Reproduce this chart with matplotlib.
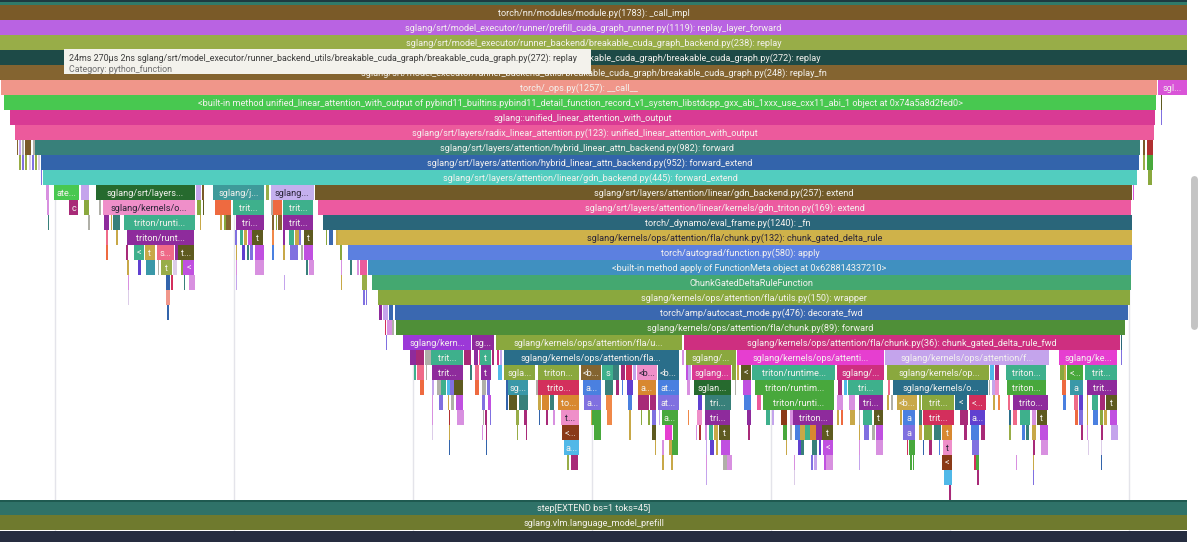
import matplotlib
matplotlib.use("Agg")
import matplotlib.pyplot as plt

plt.rcParams['font.family'] = ['Roboto', 'DejaVu Sans']

# ---------- style ----------
P = dict(
    brn='#7a5a28', vio='#b963e2', olv='#98ad48', dtl='#1d4a47', br2='#846430', sal='#f0968a',
    mag='#d954d8', grn='#48c850', ros='#d93a94', hot='#ec5a9c', tea='#38807a', blu='#3364ab',
    aqu='#52cdbf', red='#b03030', dgr='#266a2e', lil='#c4a4ec', li2='#c4b0ee', ojr='#ee6a40',
    sea='#3eb08c', pur='#8e2b9c', tan='#c8a848', dol='#5e5a20', cor='#ef6a88', cer='#3a98a8',
    mau='#c050e0', plm='#d890e0', ind='#6040d0', per='#8070e0', sky='#50b8e8', cob='#4a80e0',
    cri='#d32f5c', win='#a82a78', amb='#d88830', rus='#8a3a18', lt='#dccce8', gry='#b0b0a8',
    pnk='#ef8fc9', gbk='#715a28', tri='#ec5aa0', eva='#2a667a', yel='#cfb24a', apl='#5c80e0',
    bip='#4090c0', cgd='#44a870', wra='#8aa83e', dec='#3a68b0', fwd='#4f8f38', gar='#3e9a9a',
    cf3='#9c38d8', ch3='#ce2f80', pet='#2a6e8a', fuc='#e63ed0', ora='#f08848', fgr='#48a83c',
)
DARK_TEXT = {'pnk', 'li2', 'yel'}

# ---------- data: time span of each frame per stack depth, with its label ----------
row_0 = [(0, 1187, 'torch/nn/modules/module.py(1783): _call_impl')]
colors_0 = 'brn'.split()
row_1 = [(0, 1187, 'sglang/srt/model_executor/runner/prefill_cuda_graph_runner.py(1119): replay_layer_forward')]
colors_1 = 'vio'.split()
row_2 = [(0, 1187, 'sglang/srt/model_executor/runner_backend/breakable_cuda_graph_backend.py(238): replay')]
colors_2 = 'olv'.split()
row_3 = [(0, 1187, 'sglang/srt/model_executor/runner_backend_utils/breakable_cuda_graph/breakable_cuda_graph.py(272): replay')]
colors_3 = 'dtl'.split()
row_4 = [(0, 1187, 'sglang/srt/model_executor/runner_backend_utils/breakable_cuda_graph/breakable_cuda_graph.py(248): replay_fn')]
colors_4 = 'br2'.split()
row_5 = [(1, 1157, 'torch/_ops.py(1257): __call__'), (1158, 1187, 'sgl...')]
colors_5 = 'sal mag'.split()
row_6 = [(4, 1156, '<built-in method unified_linear_attention_with_output of pybind11_builtins.pybind11_detail_function_record_v1_system_libstdcpp_gxx_abi_1xxx_use_cxx11_abi_1 object at 0x74a5a8d2fed0>'),
         (1160.5, 1161.5, '')]
colors_6 = 'grn dol'.split()
row_7 = [(10, 1155, 'sglang::unified_linear_attention_with_output'), (1160.5, 1161.5, '')]
colors_7 = 'ros per'.split()
row_8 = [(15, 1154, 'sglang/srt/layers/radix_linear_attention.py(123): unified_linear_attention_with_output')]
colors_8 = 'hot'.split()
row_9 = [(16.5, 18, ''), (19, 21, ''), (21.5, 24, ''), (25, 31, ''), (32.5, 34.5, ''),
         (34.5, 1140, 'sglang/srt/layers/attention/hybrid_linear_attn_backend.py(982): forward'),
         (1143, 1145, ''), (1146.5, 1153, '')]
colors_9 = 'br2 lil gry brn gry tea brn red'.split()
row_10 = [(19, 21, ''), (22, 24, ''), (25, 27, ''), (29, 31, ''), (32, 34, ''), (35, 37, ''), (38, 40, ''),
          (41, 1139, 'sglang/srt/layers/attention/hybrid_linear_attn_backend.py(952): forward_extend'),
          (1143, 1145, ''), (1146.5, 1153, '')]
colors_10 = 'olv per olv lt per olv lt blu olv fgr'.split()
row_11 = [(41, 42, ''), (43, 1137, 'sglang/srt/layers/attention/linear/gdn_backend.py(445): forward_extend'),
          (1148, 1152, '')]
colors_11 = 'per aqu wra'.split()
row_12 = [(45.5, 49, ''), (54, 79, 'ate...'), (81, 89, ''), (95.5, 195, 'sglang/srt/layers...'), (196, 201, ''),
          (202, 204, ''), (212.5, 264, 'sglang/j...'), (266, 269, ''), (270.5, 313.5, 'sglang...'),
          (315, 1132, 'sglang/srt/layers/attention/linear/gdn_backend.py(257): extend'), (1133, 1134, '')]
colors_12 = 'plm grn lil dgr lil brn gar olv li2 gbk mag'.split()
row_13 = [(47, 49, ''), (69, 78, 'c'), (84, 89, ''), (99, 101, ''), (102.5, 195, 'sglang/kernels/o...'), (197, 201, ''),
          (203, 204, ''), (215, 231, ''), (233, 264, 'trit...'), (271, 273, ''), (273, 282, ''), (283, 313, 'trit...'),
          (318, 1131, 'sglang/srt/layers/attention/linear/kernels/gdn_triton.py(169): extend')]
colors_13 = 'plm win wra gry pnk wra dol ojr sea gry ojr sea tri'.split()
row_14 = [(48, 49, ''), (88, 90, ''), (103.5, 109, ''), (110.5, 112, ''), (112.5, 120, ''), (124, 195, 'triton/runti...'),
          (200, 201, ''), (220, 222, ''), (224, 226, ''), (226, 231, ''), (235.5, 263.5, 'tri...'), (272, 274, ''),
          (276, 277, ''), (278, 282, ''), (283, 313, 'trit...'),
          (323, 1132, 'torch/_dynamo/eval_frame.py(1240): _fn')]
colors_14 = 'tea gry pur tan tea sea tan tan wra br2 pur br2 wra br2 pur eva'.split()
row_15 = [(106, 108, ''), (116, 117.5, ''), (126.5, 194, 'triton/runt...'), (235, 236.5, ''), (240, 243, ''),
          (244, 247, ''), (248, 252, ''), (252, 263, 't'), (272, 274, ''), (283, 285, ''), (289, 294, ''),
          (295, 299, ''), (299, 301, ''), (304, 313, 't'), (326, 327, ''), (329, 333, ''), (336, 338, ''),
          (338, 1132, 'sglang/kernels/ops/attention/fla/chunk.py(132): chunk_gated_delta_rule')]
colors_15 = 'cor tan pur per sea tan mau dol ora pur sea tan per dol wra dec tan yel'.split()
row_16 = [(105.5, 108, ''), (126, 128, ''), (133.5, 144, '<'), (145, 155, 't'), (156.5, 174, 's...'), (175, 178, ''),
          (178, 194, 't...'), (236, 237, ''), (242, 245, ''), (247, 249, ''), (250, 253, ''), (255, 264, ''),
          (272, 274, ''), (283, 285, ''), (290, 298, ''), (301, 303, ''), (304, 313, ''), (340, 342, ''),
          (348, 1132, 'torch/autograd/function.py(580): apply')]
colors_16 = 'ojr win sea tan cor pur dol tan ind tea per mau cob tan per gry mau wra apl'.split()
row_17 = [(127, 128.5, ''), (137.5, 141, ''), (145.5, 155, ''), (158, 159, ''), (161, 172, 't'), (173, 177, ''),
          (181, 183, ''), (183, 194, '<'), (235.5, 237, ''), (255, 264, ''), (306, 308, ''), (309, 314, ''),
          (341, 342, ''), (350, 352, ''), (357, 359, ''), (360, 367, ''),
          (368, 1131, '<built-in method apply of FunctionMeta object at 0x628814337210>')]
colors_17 = 'tan ind cer gry olv lt wra mau plm plm tea plm plm tea plm hot bip'.split()
row_18 = [(127.5, 128.5, ''), (166, 170, ''), (171, 173, ''), (184, 185, ''), (189, 195, ''), (236, 237, ''),
          (283.5, 284.5, ''), (341, 342, ''), (362, 367, ''),
          (372, 1131, 'ChunkGatedDeltaRuleFunction')]
colors_18 = 'plm blu cri tea plm lil lil tan olv cgd'.split()
row_19 = [(127.5, 128.5, ''), (166, 170, ''), (363, 365, ''), (366, 367, ''),
          (377.5, 1130, 'sglang/kernels/ops/attention/fla/utils.py(150): wrapper')]
colors_19 = 'lt sal per per wra'.split()
row_20 = [(167, 169, ''), (379, 382, ''), (382.5, 388, ''), (389, 393, ''),
          (395, 1128, 'torch/amp/autocast_mode.py(476): decorate_fwd')]
colors_20 = 'blu pur lil dec dec'.split()
row_21 = [(385, 386, ''), (387, 392, ''), (392, 394, ''), (396, 1125, 'sglang/kernels/ops/attention/fla/chunk.py(89): forward')]
colors_21 = 'cri plm gry fwd'.split()
row_22 = [(386, 387, ''), (403, 471, 'sglang/kern...'), (472, 494, 'sg...'),
          (495.5, 682, 'sglang/kernels/ops/attention/fla/u...'),
          (684, 1120, 'sglang/kernels/ops/attention/fla/chunk.py(36): chunk_gated_delta_rule_fwd'), (1121, 1122, '')]
colors_22 = 'per cf3 pur wra ch3 eva'.split()
row_23 = [(410, 416, ''), (416, 424, ''), (425, 431, ''), (431, 463, 'trit...'), (464, 471, ''), (474, 478, ''),
          (479, 480, ''), (480, 491, 't'), (491.5, 494, ''), (497, 499, ''), (499.5, 502, ''),
          (503.5, 679, 'sglang/kernels/ops/attention/fla...'), (682, 684, ''), (685.5, 736, 'sglang/...'),
          (737, 884, 'sglang/kernels/ops/attenti...'), (885, 1049, 'sglang/kernels/ops/attention/f...'),
          (1059, 1117, 'sglang/ke...'), (1121, 1122, '')]
colors_23 = 'pur win gry sea win pur hot sea win ch3 lil pet plm wra fuc lil fuc per'.split()
row_24 = [(414, 416, ''), (417, 424, ''), (426, 427, ''), (432, 463, 'trit...'), (470, 472, ''), (474.5, 479, ''),
          (481, 491, 't'), (497.5, 502, ''), (504, 535, 'sgla...'), (538, 579, 'triton...'), (581, 601, '<b...'),
          (602, 613, 's'), (613, 619, ''), (621, 625, ''), (626, 632, ''), (633, 636, ''),
          (637, 657, '<b...'), (658, 679, '<b...'), (686, 688, ''), (688, 691, ''), (692, 731, 'sglang...'),
          (732, 736, ''), (737, 739, ''), (741, 751, '<'), (752, 835, 'triton/runtime...'), (837, 884, 'sglang/...'),
          (887, 889, ''), (889, 989, 'sglang/kernels/op...'), (990, 994, ''), (995, 999, ''),
          (1006, 1046, 'triton...'), (1060, 1064, ''), (1064, 1066, ''), (1067, 1083, '<...'), (1085, 1117, 'trit...')]
colors_24 = ('sea cor gry pur tea cor pur sky wra wra br2 sea tea win cri lil pnk pet mau lil ros wra tan dol sea ch3 '
             'wra wra sky win sea wra tan fgr sea').split()
row_25 = [(420, 424, ''), (432, 434, ''), (437, 441, ''), (441, 446, ''), (447, 450, ''), (450, 454, ''),
          (454, 463, ''), (475, 479, ''), (482, 486, ''), (487, 490, ''), (506, 508, ''), (508, 528, 'sg...'),
          (536, 538, ''), (538, 579, 'trito...'), (583, 601, 'a...'), (605, 613, ''), (616, 619, ''),
          (622, 623, ''), (627, 633, ''), (638, 656, 'a...'), (658, 679, 'at...'), (687, 690, ''),
          (694, 731, 'sglan...'), (735, 736, ''), (743, 751, ''), (755, 834, 'triton/runtim...'), (838, 842, ''),
          (844, 847, ''), (848, 883, 'tri...'), (888, 890, ''), (893, 988, 'sglang/kernels/o...'),
          (989, 990, ''), (992, 995, ''), (995, 999, ''), (1007, 1046, 'triton...'), (1062, 1066, ''),
          (1070, 1083, 'a'), (1087, 1117, 'trit...')]
colors_25 = ('ojr lil gry sea sky per dol ojr gry per blu cer gry cri cob tea win cob ind amb cob plm dgr gry mau fgr '
             'win sky sea cor pet gry lil pnk fgr ojr cer pur').split()
row_26 = [(432, 433, ''), (439, 443, ''), (448, 449, ''), (451, 454, ''), (456, 463, ''), (482, 485, ''),
          (488, 491, ''), (506, 508, ''), (509, 517, ''), (519, 528, ''), (538, 541, ''), (542, 549, ''),
          (550, 554, ''), (558, 579, 'to...'), (584, 601, 'a...'), (606, 612, ''), (628, 632, ''), (638, 649, ''),
          (650, 656, ''), (658, 679, 'at...'), (698, 702, ''), (705, 731, 'tri...'), (744, 751, ''), (757, 761, ''),
          (763, 834, 'triton/runti...'), (837, 843, ''), (849, 855, ''), (859, 883, 'tri...'), (887, 889, ''),
          (891, 893, ''), (897, 917, '<b...'), (919, 921, ''), (922, 954, 'trit...'), (955, 967, '<'),
          (969, 986, '<...'), (993, 995, ''), (998, 1000, ''), (1008, 1010, ''), (1013, 1048, 'trito...'),
          (1063, 1066, ''), (1074, 1078, ''), (1079, 1083, ''), (1087, 1088, ''), (1092, 1098, ''), (1100, 1105, ''),
          (1106, 1117, 't')]
colors_26 = ('plm per tan gry mau per mau blu dol tea tan amb tea amb per ora cob win win per ind tea cob hot '
             'fgr plm plm pur tan gry tan olv wra pet cri tan ora cor pur cob cor ind tan sea win dol').split()
row_27 = [(432, 433, ''), (449, 450, ''), (457, 464, ''), (482.5, 484, ''), (485, 487, ''), (489.5, 491, ''),
          (516, 519, ''), (524, 527, ''), (539, 540, ''), (546, 548, ''), (553, 555, ''), (561, 579, 't...'),
          (591, 592, ''), (592, 601, ''), (607, 612, ''), (629, 631, ''), (641, 642, ''), (648, 650, ''),
          (652, 656, ''), (659, 660, ''), (662, 678, 'a...'), (688, 689, ''), (697, 702, ''), (705, 730, 'tri...'),
          (747, 751, ''), (766, 770, ''), (772, 774, ''), (781, 787, ''), (790, 793, ''), (793, 833, 'triton...'),
          (837, 839, ''), (841, 843, ''), (850, 855, ''), (859, 860, ''), (863, 872, ''), (874, 883, 't'),
          (900, 902, ''), (903, 915, 'a'), (919, 922, ''), (923, 954, 'trit...'), (960, 968, ''),
          (970, 985, 'a...'), (1009, 1011, ''), (1013, 1017, ''), (1020, 1030, ''), (1032, 1036, ''),
          (1037, 1047, 't'), (1075, 1078, ''), (1079, 1083, ''), (1087, 1088, ''), (1093, 1098, ''), (1100, 1103, ''),
          (1104, 1107, ''), (1110, 1117, '')]
colors_27 = ('plm red plm gry win per olv win blu win plm pnk tan fgr ora tan wra wra per lil fgr ora pnk pur '
             'pur sea lil rus plm pur tan ojr tan gry sea dol tan cob tea cri win ind pet cor sea plm dol ojr per '
             'tan cob wra tan mau').split()
row_28 = [(432, 433, ''), (449, 450, ''), (482, 483, ''), (485.5, 487, ''), (516.5, 518, ''), (526, 527, ''),
          (562, 579, '<...'), (594, 601, ''), (629, 631, ''), (652, 656, ''), (665, 672, ''), (673, 678, ''),
          (696, 697, ''), (699, 701, ''), (705, 707, ''), (708.5, 713, ''), (713.5, 718, ''), (719, 730, 't'),
          (748, 750, ''), (783, 787, ''), (790, 792, ''), (795, 800, ''), (800, 805, ''), (805, 810, ''),
          (810, 816, ''), (816, 822, ''), (822, 833, 't'), (859, 860, ''), (864, 869, ''), (872, 875, ''),
          (876, 883, ''), (903, 915, 'a'), (919, 922, ''), (924, 932, ''), (934, 941, ''), (942, 952, 't'),
          (964, 967, ''), (971, 979, ''), (981, 985, ''), (1009, 1011, ''), (1022, 1025, ''), (1026, 1029, ''),
          (1032, 1036, ''), (1040, 1048, ''), (1081, 1083, ''), (1087, 1088, ''), (1101, 1103, ''), (1111, 1118, '')]
colors_28 = ('lt tan plm win olv win rus fgr tan dol fuc fgr plm red plm sea tan dol win fgr gry cob tan sea amb '
             'pur dol tan per gry mau per tan wra tea amb win cob win olv cob tea tan mau win plm win lil').split()
row_29 = [(449, 450, ''), (486, 487, ''), (564, 579, 'a...'), (655, 656, ''), (662, 664, ''), (669, 672, ''),
          (672, 678, ''), (706, 707, ''), (710, 714, ''), (716, 718, ''), (721, 730, ''), (786, 787, ''),
          (798, 801, ''), (801, 804, ''), (812, 817, ''), (819, 821, ''), (823, 833, '<'), (859, 860, ''),
          (876, 883, ''), (906.5, 908, ''), (909, 915, ''), (922.5, 924, ''), (929, 932, ''), (939, 940, ''),
          (943, 952, 't'), (972, 979, ''), (1033, 1035, ''), (1041, 1048, ''), (1088, 1089, ''), (1101, 1102, '')]
colors_29 = ('blu blu sky tan plm tan fgr lil ind tan mau tan ind tea tea ind mau plm plm cri fgr blu win cob '
             'pnk per win plm lt lt').split()
row_30 = [(567, 569, ''), (571, 578, ''), (662, 664, ''), (671, 673, ''), (706, 707, ''), (723, 727, ''),
          (727, 732, ''), (793.5, 795, ''), (811, 813, ''), (814, 817, ''), (824, 826, ''), (826, 833, ''),
          (859, 860, ''), (910, 912, ''), (913, 914, ''), (942, 952, '<'), (974, 976, ''), (976, 979, ''),
          (1015.5, 1016.5, ''), (1033, 1034, ''), (1101, 1102, '')]
colors_30 = 'olv win tan tan plm gry plm plm per lil mau plm lil fgr fgr rus cri fgr plm tan blu'.split()
row_31 = [(706, 707, ''), (793.5, 795, ''), (944, 952, ''), (977, 979, ''), (1033, 1034, '')]
colors_31 = 'lil lt sky win per'.split()
row_32 = [(949, 951, '')]
colors_32 = 'win'.split()
row_33 = [(0, 1187, 'step[EXTEND bs=1 toks=45]')]
row_34 = [(0, 1187, 'sglang.vlm.language_model_prefill')]

tooltip_title = '24ms 270µs 2ns sglang/srt/model_executor/runner_backend_utils/breakable_cuda_graph/breakable_cuda_graph.py(272): replay'
tooltip_category = 'Category: python_function'
grid_times = [55, 234, 413, 592, 771, 950, 1129]

rows = [row_0, row_1, row_2, row_3, row_4, row_5, row_6, row_7, row_8, row_9, row_10, row_11, row_12, row_13,
        row_14, row_15, row_16, row_17, row_18, row_19, row_20, row_21, row_22, row_23, row_24, row_25, row_26,
        row_27, row_28, row_29, row_30, row_31, row_32]
colors = [colors_0, colors_1, colors_2, colors_3, colors_4, colors_5, colors_6, colors_7, colors_8, colors_9,
          colors_10, colors_11, colors_12, colors_13, colors_14, colors_15, colors_16, colors_17, colors_18,
          colors_19, colors_20, colors_21, colors_22, colors_23, colors_24, colors_25, colors_26, colors_27,
          colors_28, colors_29, colors_30, colors_31, colors_32]

# ---------- drawing ----------
fig = plt.figure(figsize=(12, 5.42), dpi=100, facecolor='white')
ax = fig.add_axes([0, 0, 1, 1])
ax.set_xlim(0, 1200)
ax.set_ylim(35.8, -1 / 3)
ax.axis('off')

FS = 6.62


def draw(depth, span, color, dark=False):
    start, end, label = span
    ax.barh(depth, end - start, left=start, height=1, align='edge', color=color, linewidth=0, zorder=2)
    if label:
        ax.text((start + end) / 2, depth + 0.5, label, ha='center', va='center_baseline', fontsize=FS,
                color='#2a2438' if dark else '#f4f2ee', zorder=3)


for t in grid_times:
    ax.plot([t, t], [12, 35], color='#e4e4ea', lw=1, zorder=1)

for depth, (row, names) in enumerate(zip(rows, colors)):
    for span, name in zip(row, names):
        draw(depth, span, P[name], name in DARK_TEXT)

# top strip, bottom stacks and status band
ax.barh(-1, 1187, height=1, align='edge', color='#2f7a6a', linewidth=0, zorder=2)
ax.barh(-1, 1187, height=0.8, align='edge', color='#1d3b42', linewidth=0, zorder=2.1)
draw(33, row_33[0], '#2f7268')
draw(34, row_34[0], '#6f7a2e')
ax.barh(33, 1187, height=0.12, align='edge', color='#1f5a50', linewidth=0, zorder=2.1)
ax.barh(35.07, 1187, height=1, align='edge', color='#262d40', linewidth=0, zorder=2)

# scrollbar
ax.plot([1193.5, 1193.5], [11.6, 21.4], color='#c4c4c4', lw=5, solid_capstyle='round', zorder=2)

# tooltip
ax.barh(2.95, 527, left=63.5, height=1.65, align='edge', color='#f3f2ec', linewidth=0, zorder=5)
ax.text(69, 3.47, tooltip_title, ha='left', va='center_baseline', fontsize=6.4, color='#3c3c3c', zorder=6)
ax.text(69, 4.2, tooltip_category, ha='left', va='center_baseline', fontsize=6.4, color='#6e6e6e', zorder=6)

fig.savefig('out.png', dpi=100)
